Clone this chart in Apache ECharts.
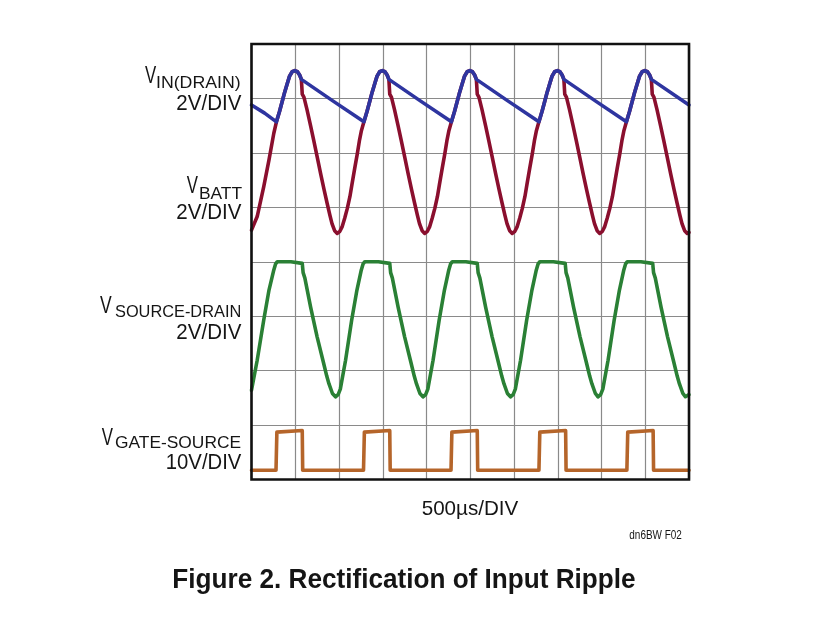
<!DOCTYPE html>
<html>
<head>
<meta charset="utf-8">
<script src="https://cdn.jsdelivr.net/npm/echarts@6/dist/echarts.min.js"></script>
<style>
html,body{margin:0;padding:0;background:#fff;}
#chart{width:835px;height:632px;}
</style>
</head>
<body>
<div id="chart"></div>
<script>
// ---- data (x in time divisions, y in vertical divisions) ----
const xDivisions = [0, 10];
const yDivisions = [0, 8];

const vBatt = [
  [0,4.58],[0.13,4.83],[0.28,5.38],[0.40,5.87],[0.51,6.36],[0.57,6.57],[0.64,6.76],[0.70,6.94],[0.76,7.12],[0.82,7.28],[0.87,7.41],[0.93,7.49],[0.99,7.51],[1.05,7.49],[1.10,7.43],[1.14,7.35],
  [1.16,7.08],[1.20,7.02],[1.27,6.79],[1.35,6.50],[1.42,6.24],[1.50,5.93],[1.58,5.62],[1.66,5.32],[1.73,5.07],[1.79,4.86],[1.84,4.70],[1.90,4.57],[1.96,4.52],[2.02,4.56],[2.07,4.64],[2.13,4.80],[2.19,4.98],[2.25,5.20],[2.30,5.44],[2.36,5.72],[2.42,5.99],[2.47,6.24],[2.51,6.40],
  [2.57,6.57],[2.64,6.76],[2.70,6.94],[2.76,7.12],[2.82,7.28],[2.87,7.41],[2.93,7.49],[2.99,7.51],[3.05,7.49],[3.10,7.43],[3.14,7.35],
  [3.16,7.08],[3.20,7.02],[3.27,6.79],[3.35,6.50],[3.42,6.24],[3.50,5.93],[3.58,5.62],[3.66,5.32],[3.73,5.07],[3.79,4.86],[3.84,4.70],[3.90,4.57],[3.96,4.52],[4.02,4.56],[4.07,4.64],[4.13,4.80],[4.19,4.98],[4.25,5.20],[4.30,5.44],[4.36,5.72],[4.42,5.99],[4.47,6.24],[4.51,6.40],
  [4.57,6.57],[4.64,6.76],[4.70,6.94],[4.76,7.12],[4.82,7.28],[4.87,7.41],[4.93,7.49],[4.99,7.51],[5.05,7.49],[5.10,7.43],[5.14,7.35],
  [5.16,7.08],[5.20,7.02],[5.27,6.79],[5.35,6.50],[5.42,6.24],[5.50,5.93],[5.58,5.62],[5.66,5.32],[5.73,5.07],[5.79,4.86],[5.84,4.70],[5.90,4.57],[5.96,4.52],[6.02,4.56],[6.07,4.64],[6.13,4.80],[6.19,4.98],[6.25,5.20],[6.30,5.44],[6.36,5.72],[6.42,5.99],[6.47,6.24],[6.51,6.40],
  [6.57,6.57],[6.64,6.76],[6.70,6.94],[6.76,7.12],[6.82,7.28],[6.87,7.41],[6.93,7.49],[6.99,7.51],[7.05,7.49],[7.10,7.43],[7.14,7.35],
  [7.16,7.08],[7.20,7.02],[7.27,6.79],[7.35,6.50],[7.42,6.24],[7.50,5.93],[7.58,5.62],[7.66,5.32],[7.73,5.07],[7.79,4.86],[7.84,4.70],[7.90,4.57],[7.96,4.52],[8.02,4.56],[8.07,4.64],[8.13,4.80],[8.19,4.98],[8.25,5.20],[8.30,5.44],[8.36,5.72],[8.42,5.99],[8.47,6.24],[8.51,6.40],
  [8.57,6.57],[8.64,6.76],[8.70,6.94],[8.76,7.12],[8.82,7.28],[8.87,7.41],[8.93,7.49],[8.99,7.51],[9.05,7.49],[9.10,7.43],[9.14,7.35],
  [9.16,7.08],[9.20,7.02],[9.27,6.79],[9.35,6.50],[9.42,6.24],[9.50,5.93],[9.58,5.62],[9.66,5.32],[9.73,5.07],[9.79,4.86],[9.84,4.70],[9.90,4.57],[9.96,4.52],[10,4.54]
];

const vInDrain = [
  [0,6.88],[0.30,6.73],[0.57,6.57],[0.64,6.76],[0.70,6.94],[0.76,7.12],[0.82,7.28],[0.87,7.41],[0.93,7.49],[0.99,7.51],[1.05,7.49],[1.10,7.43],[1.14,7.35],[1.85,6.96],
  [2.57,6.57],[2.64,6.76],[2.70,6.94],[2.76,7.12],[2.82,7.28],[2.87,7.41],[2.93,7.49],[2.99,7.51],[3.05,7.49],[3.10,7.43],[3.14,7.35],[3.85,6.96],
  [4.57,6.57],[4.64,6.76],[4.70,6.94],[4.76,7.12],[4.82,7.28],[4.87,7.41],[4.93,7.49],[4.99,7.51],[5.05,7.49],[5.10,7.43],[5.14,7.35],[5.85,6.96],
  [6.57,6.57],[6.64,6.76],[6.70,6.94],[6.76,7.12],[6.82,7.28],[6.87,7.41],[6.93,7.49],[6.99,7.51],[7.05,7.49],[7.10,7.43],[7.14,7.35],[7.85,6.96],
  [8.57,6.57],[8.64,6.76],[8.70,6.94],[8.76,7.12],[8.82,7.28],[8.87,7.41],[8.93,7.49],[8.99,7.51],[9.05,7.49],[9.10,7.43],[9.14,7.35],[10,6.88]
];

const vSourceDrain = [
  [0,1.64],[0.13,2.19],[0.28,2.93],[0.40,3.48],[0.51,3.85],[0.55,3.96],[0.59,4.0],[0.90,4.0],[1.16,3.97],[1.18,3.80],[1.22,3.70],[1.35,3.17],[1.50,2.62],[1.65,2.13],[1.72,1.90],[1.77,1.76],[1.85,1.58],[1.92,1.52],
  [1.98,1.56],[2.03,1.66],[2.15,2.19],[2.29,2.93],[2.41,3.48],[2.51,3.85],[2.55,3.96],[2.59,4.0],[2.90,4.0],[3.16,3.97],[3.18,3.80],[3.22,3.70],[3.35,3.17],[3.50,2.62],[3.65,2.13],[3.72,1.90],[3.77,1.76],[3.85,1.58],[3.92,1.52],
  [3.98,1.56],[4.03,1.66],[4.15,2.19],[4.29,2.93],[4.41,3.48],[4.51,3.85],[4.55,3.96],[4.59,4.0],[4.90,4.0],[5.16,3.97],[5.18,3.80],[5.22,3.70],[5.35,3.17],[5.50,2.62],[5.65,2.13],[5.72,1.90],[5.77,1.76],[5.85,1.58],[5.92,1.52],
  [5.98,1.56],[6.03,1.66],[6.15,2.19],[6.29,2.93],[6.41,3.48],[6.51,3.85],[6.55,3.96],[6.59,4.0],[6.90,4.0],[7.17,3.97],[7.19,3.80],[7.23,3.70],[7.36,3.17],[7.51,2.62],[7.66,2.13],[7.73,1.90],[7.78,1.76],[7.86,1.58],[7.92,1.52],
  [7.98,1.56],[8.03,1.66],[8.15,2.19],[8.29,2.93],[8.41,3.48],[8.51,3.85],[8.55,3.96],[8.59,4.0],[8.90,4.0],[9.17,3.97],[9.19,3.80],[9.23,3.70],[9.36,3.17],[9.51,2.62],[9.66,2.13],[9.73,1.90],[9.78,1.76],[9.86,1.58],[9.92,1.52],[10,1.56]
];

const vGateSource = [
  [0,0.17],[0.56,0.17],[0.58,0.87],[1.16,0.90],[1.17,0.17],
  [2.56,0.17],[2.58,0.87],[3.16,0.90],[3.17,0.17],
  [4.56,0.17],[4.58,0.87],[5.16,0.90],[5.17,0.17],
  [6.57,0.17],[6.59,0.87],[7.18,0.90],[7.19,0.17],
  [8.58,0.17],[8.60,0.87],[9.18,0.90],[9.19,0.17],[10,0.17]
];

const traceNames = ['VBATT', 'VIN(DRAIN)', 'VSOURCE-DRAIN', 'VGATE-SOURCE'];
const traceColors = ['#8a0f2e', '#2e35a0', '#2a8035', '#b5652a'];

// text labels: [text, glyph-left x, cap-centre y, font size, weight, glyph width]
const labelTexts = [
  ['V', 145, 76.7, 23, 'normal', 11.7],
  ['IN(DRAIN)', 157, 83.3, 17, 'normal', 83],
  ['2V/DIV', 177.3, 103.7, 22, 'normal', 64.4],
  ['V', 186.7, 186.3, 23, 'normal', 11.7],
  ['BATT', 200, 194.2, 17, 'normal', 41.7],
  ['2V/DIV', 177.3, 213.3, 22, 'normal', 64.4],
  ['V', 100, 306.7, 23, 'normal', 12.2],
  ['SOURCE-DRAIN', 115, 312.2, 17, 'normal', 125],
  ['2V/DIV', 177.3, 333.3, 22, 'normal', 64.4],
  ['V', 101.7, 438.3, 23, 'normal', 11.7],
  ['GATE-SOURCE', 115, 443.7, 17, 'normal', 125.7],
  ['10V/DIV', 166.7, 463.3, 22, 'normal', 75],
  ['500µs/DIV', 421.7, 509.2, 21, 'normal', 96.6],
  ['dn6BW F02', 629.3, 535, 13, 'normal', 52.4],
  ['Figure 2. Rectification of Input Ripple', 173.3, 580, 28, 'bold', 461.7]
];

const FONT = '"Liberation Sans Narrow", "Liberation Sans", Arial, sans-serif';
const GRID = { left: 251.5, top: 44, width: 437.5, height: 435.5 };

const mctx = document.createElement('canvas').getContext('2d');
function textEl(t) {
  const [text, left, cy, size, weight, w] = t;
  const font = weight + ' ' + size + 'px ' + FONT;
  mctx.font = font;
  const m = mctx.measureText(text);
  const gw = (m.actualBoundingBoxLeft + m.actualBoundingBoxRight) || m.width;
  const s = w / gw;
  return {
    type: 'text',
    x: left + (m.actualBoundingBoxLeft || 0) * s,
    y: cy,
    scaleX: s,
    z: 200,
    style: {
      text: text, font: font, fill: '#151515',
      align: 'left', verticalAlign: 'middle',
      textAlign: 'left', textVerticalAlign: 'middle'
    }
  };
}

const chart = echarts.init(document.getElementById('chart'), null, { renderer: 'canvas' });
const traces = [vBatt, vInDrain, vSourceDrain, vGateSource];
const axisCommon = {
  type: 'value', interval: 1,
  axisLine: { show: false }, axisTick: { show: false }, axisLabel: { show: false },
  splitLine: { show: true, lineStyle: { color: '#8a8a8a', width: 1.2 } }
};
chart.setOption({
  animation: false,
  backgroundColor: '#ffffff',
  grid: Object.assign({ show: false }, GRID),
  xAxis: Object.assign({ min: xDivisions[0], max: xDivisions[1] }, axisCommon),
  yAxis: Object.assign({ min: yDivisions[0], max: yDivisions[1] }, axisCommon),
  series: traces.map((d, i) => ({
    name: traceNames[i],
    type: 'line',
    data: d,
    showSymbol: false,
    symbol: 'none',
    smooth: false,
    z: 10 + (i === 1 ? 5 : i),
    lineStyle: { color: traceColors[i], width: 3.6, join: 'round', cap: 'round' }
  })),
  graphic: [
    {
      type: 'rect', z: 150,
      shape: { x: GRID.left, y: GRID.top, width: GRID.width, height: GRID.height },
      style: { fill: 'none', stroke: '#111', lineWidth: 2.6 }
    }
  ].concat(labelTexts.map(textEl))
});
</script>
</body>
</html>
